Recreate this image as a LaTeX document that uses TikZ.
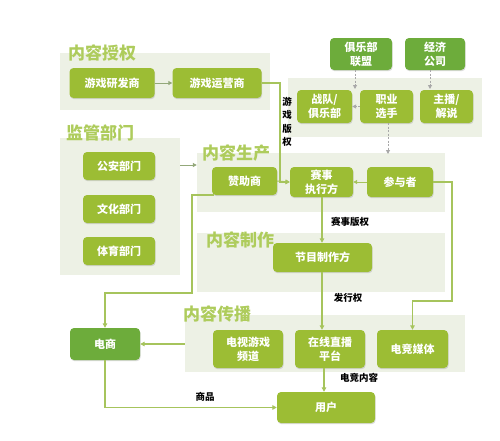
\documentclass[tikz,border=0pt]{standalone}
\usepackage{fontspec}
\setmainfont{Noto Sans CJK SC}
\usetikzlibrary{arrows.meta,shadows}
\definecolor{panelbg}{HTML}{EDF1E5}
\definecolor{nodeg}{HTML}{9CBD34}
\definecolor{darkg}{HTML}{6DAC3B}
\definecolor{titleg}{HTML}{AECC5C}
\definecolor{lineg}{HTML}{A6C45C}
\definecolor{smallg}{HTML}{93A87A}
\definecolor{dashg}{HTML}{A8A8A8}
\tikzset{
  panel/.style={fill=panelbg, draw=none},
  ptitle/.style={text=titleg, font=\fontsize{17}{17}\selectfont\bfseries, inner sep=0pt},
  box/.style={fill=nodeg, draw=none, rounded corners=4pt, text=white,
    font=\fontsize{11}{14}\selectfont\bfseries, align=center, inner sep=1pt,
    drop shadow={shadow xshift=0.6pt, shadow yshift=-1.2pt, fill=black!40, opacity=0.35}},
  dbox/.style={box, fill=darkg},
  conn/.style={draw=lineg, line width=1.4pt, -{Triangle[length=4.5pt,width=4.5pt]}},
  sconn/.style={draw=smallg, line width=1pt, -{Triangle[length=4pt,width=4pt]}},
  dconn/.style={draw=dashg, line width=0.9pt, dashed, dash pattern=on 2pt off 1.5pt, -{Triangle[length=4pt,width=4pt]}},
  lab/.style={font=\fontsize{9.5}{12.5}\selectfont\bfseries, text=black, inner sep=1pt, align=center}
}
\begin{document}
\begin{tikzpicture}[x=1pt,y=-1pt]
\useasboundingbox[fill=white] (0,0) rectangle (500,440);
% panels
\path[panel] (60,53) rectangle (270,110);
\path[panel] (60,138) rectangle (180,275);
\path[panel] (288,78) rectangle (482,137);
\path[panel] (197,153) rectangle (445,212);
\path[panel] (197,233) rectangle (445,292);
\path[panel] (185,315) rectangle (465,372);
\node[panel, minimum width=248pt, minimum height=59pt, fill=none, inner sep=0pt] (pProd) at (321,182.5) {};
\node[panel, minimum width=120pt, minimum height=137pt, fill=none, inner sep=0pt] (pReg) at (120,206.5) {};
\node[panel, minimum width=280pt, minimum height=57pt, fill=none, inner sep=0pt] (pDist) at (325,343.5) {};
% titles
\node[ptitle] (tAuth) at (102,53) {内容授权};
\node[ptitle] (tReg) at (100,133) {监管部门};
\node[ptitle] (tProd) at (236,153) {内容生产};
\node[ptitle] (tMake) at (240,240) {内容制作};
\node[ptitle] (tDist) at (217,314) {内容传播};
% nodes
\node[box, minimum width=85pt, minimum height=30pt] (dev) at (112,83) {游戏研发商};
\node[box, minimum width=89pt, minimum height=30pt] (op) at (217,83) {游戏运营商};
\node[box, minimum width=72pt, minimum height=28pt] (police) at (119,166) {公安部门};
\node[box, minimum width=72pt, minimum height=28pt] (culture) at (119,209) {文化部门};
\node[box, minimum width=72pt, minimum height=28pt] (sport) at (119,251) {体育部门};
\node[dbox, minimum width=62pt, minimum height=32pt] (league) at (361,54) {俱乐部\\联盟};
\node[dbox, minimum width=60pt, minimum height=32pt] (agency) at (435,54) {经济\\公司};
\node[box, minimum width=55pt, minimum height=33pt] (team) at (324.5,106.5) {战队/\\俱乐部};
\node[box, minimum width=53pt, minimum height=33pt] (player) at (386.5,106.5) {职业\\选手};
\node[box, minimum width=53pt, minimum height=33pt] (host) at (446.5,106.5) {主播/\\解说};
\node[box, minimum width=65pt, minimum height=28pt] (sponsor) at (244.5,181) {赞助商};
\node[box, minimum width=63pt, minimum height=30pt] (exec) at (321.5,182) {赛事\\执行方};
\node[box, minimum width=66pt, minimum height=30pt] (part) at (400,182) {参与者};
\node[box, minimum width=99pt, minimum height=29pt] (prog) at (322.5,257.5) {节目制作方};
\node[box, minimum width=70pt, minimum height=38pt] (tv) at (248,349) {电视游戏\\频道};
\node[box, minimum width=70pt, minimum height=38pt] (live) at (330,349) {在线直播\\平台};
\node[box, minimum width=71pt, minimum height=38pt] (media) at (412.5,349) {电竞媒体};
\node[dbox, minimum width=70pt, minimum height=32pt] (ecom) at (105,344) {电商};
\node[box, minimum width=98pt, minimum height=31pt] (user) at (326,407.5) {用户};
% coordinates
\coordinate (c1) at (280,83);
\coordinate (c2) at (280,182);
\coordinate (c3) at (452,182);
\coordinate (c4) at (452,301);
\coordinate (c5) at (412.5,301);
\coordinate (c6) at (192,195);
\coordinate (c7) at (192,293);
\coordinate (c8) at (105,293);
\coordinate (c9) at (105,407.5);
\coordinate (d1) at (355,89);
\coordinate (d2) at (430,89);
\coordinate (d3) at (388,154);
% connectors
\draw[sconn] (dev.east) -- (op.west);
\draw[conn] (op.east) -- (c1) -- (c2) -- (exec.west);
\draw[sconn] (pReg.east |- 0,165) -- (pProd.west |- 0,165);
\draw[sconn, draw=lineg] (sponsor.east) -- (exec.west);
\draw[sconn, draw=lineg] (part.west) -- (exec.east);
\draw[conn] (part.east) -- (c3) -- (c4) -- (c5) -- (media.north);
\draw[conn] (sponsor.south west |- c6) ++(2pt,0) -- (c6) -- (c7) -- (c8) -- (ecom.north);
\draw[conn] (exec.south -| 322,0) -- (prog.north -| 322,0);
\draw[conn] (prog.south -| 322,0) -- (live.north -| 322,0);
\draw[conn] (pDist.west |- ecom.east) -- (ecom.east);
\draw[conn] (live.south -| 324,0) -- (user.north -| 324,0);
\draw[conn] (ecom.south) -- (c9) -- (user.west);
\draw[dconn] (league.south -| d1) -- (d1);
\draw[dconn] (agency.south -| d2) -- (d2);
\draw[dconn] (player.west) -- (team.east);
\draw[dconn] (player.south -| d3) -- (d3);
% labels
\node[lab, font=\fontsize{9.5}{13.5}\selectfont\bfseries] (lGame) at (287,122) {游\\戏\\版\\权};
\node[lab] (lEvent) at (350,222) {赛事版权};
\node[lab] (lDist) at (348,298) {发行权};
\node[lab] (lCont) at (359,378) {电竞内容};
\node[lab] (lGoods) at (205,397) {商品};
\end{tikzpicture}
\end{document}
